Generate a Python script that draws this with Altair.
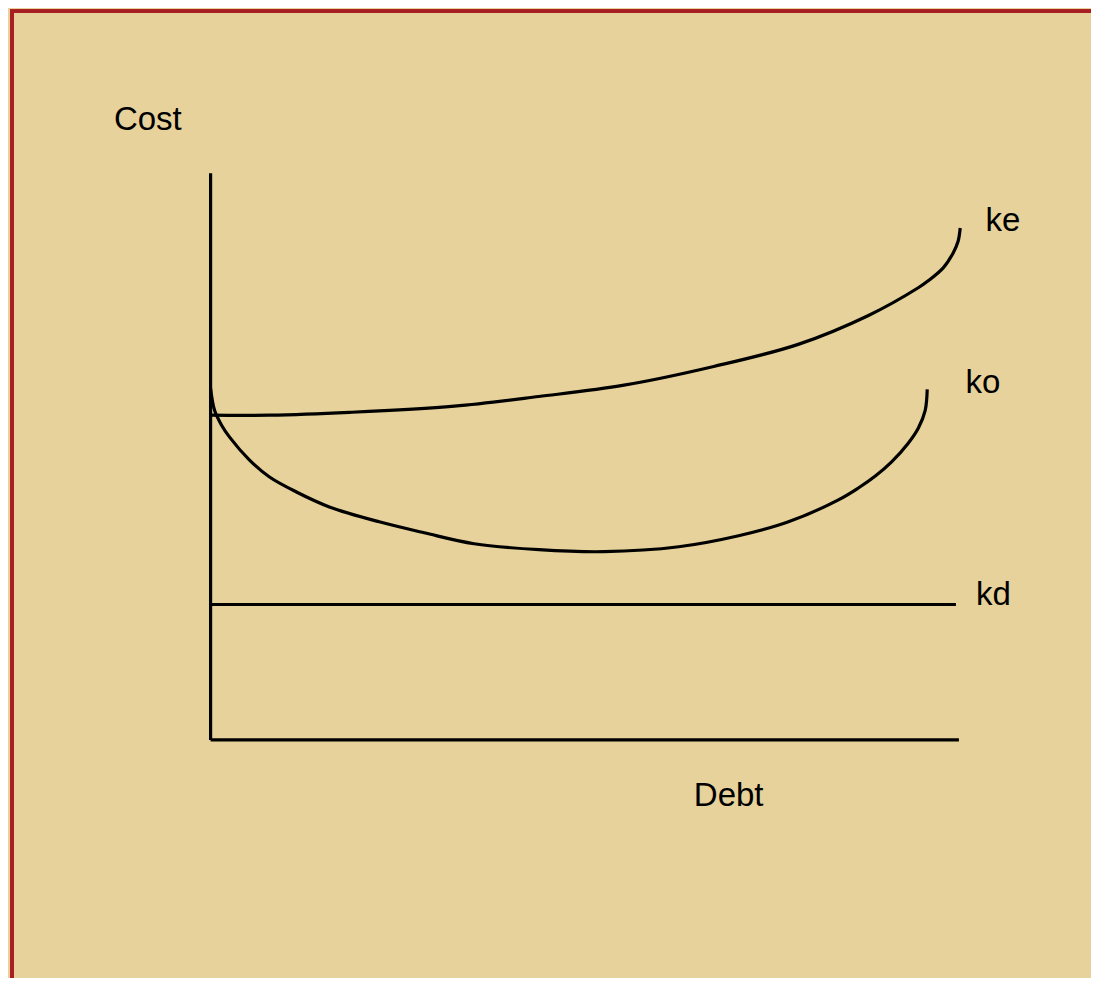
import altair as alt
import pandas as pd

# Curve data (Debt on x, Cost on y, arbitrary units 0..100)
ke_x = [0, 7.9, 18.6, 32.6, 43.9, 55.3, 67.3, 78.6, 88.0, 94.66, 95.99, 98.0, 99.33, 100.0, 100.27]
ke_y = [57.3, 57.3, 57.8, 58.9, 60.6, 62.6, 65.9, 69.8, 74.9, 79.79, 81.02, 83.3, 85.94, 88.05, 90.33]

ko_x = [0, 0.53, 1.47, 2.54, 5.21, 7.88, 11.48, 15.89, 22.56, 28.57, 35.25, 43.92, 52.60, 62.62,
        70.63, 77.30, 83.98, 86.65, 88.92, 91.06, 93.32, 94.66, 95.59, 95.86]
ko_y = [62.04, 58.17, 55.54, 53.43, 49.38, 46.40, 43.76, 41.12, 38.49, 36.56, 34.62, 33.57, 33.22, 34.09,
        36.03, 38.49, 42.36, 44.46, 46.57, 49.03, 52.37, 55.01, 58.17, 61.86]

kd_x = [0, 99.7]
kd_y = [23.9, 23.9]

xaxis_x = [0, 100.1]
xaxis_y = [0, 0]
yaxis_x = [0, 0]
yaxis_y = [0, 100]

label_text = ["Cost", "ke", "ko", "kd", "Debt"]
label_x = [-8.4, 106.0, 103.3, 104.7, 69.3]
label_y = [107.7, 89.8, 61.2, 23.9, -11.6]

rows = []
for name, xs, ys in [("ke", ke_x, ke_y), ("ko", ko_x, ko_y), ("kd", kd_x, kd_y),
                     ("xaxis", xaxis_x, xaxis_y), ("yaxis", yaxis_x, yaxis_y)]:
    for i, (a, b) in enumerate(zip(xs, ys)):
        rows.append({"series": name, "x": a, "y": b, "idx": i})
lines_df = pd.DataFrame(rows)
labels_df = pd.DataFrame({"text": label_text, "x": label_x, "y": label_y})

xs = alt.Scale(domain=[-27.1, 117.5], nice=False, zero=False)
ys = alt.Scale(domain=[-41.65, 128.8], nice=False, zero=False)

lines = alt.Chart(lines_df).mark_line(color="black", strokeWidth=3.2, interpolate="catmull-rom").encode(
    x=alt.X("x:Q", scale=xs, axis=None),
    y=alt.Y("y:Q", scale=ys, axis=None),
    detail="series:N",
    order="idx:Q",
)

labels = alt.Chart(labels_df).mark_text(
    font="Liberation Sans", fontSize=33, color="black", align="center", baseline="alphabetic"
).encode(
    x=alt.X("x:Q", scale=xs, axis=None),
    y=alt.Y("y:Q", scale=ys, axis=None),
    text="text:N",
)

border_left = alt.Chart(labels_df).mark_rule(color="#A81E22", strokeWidth=4).encode(
    x=alt.value(4), y=alt.value(0), y2=alt.value(970)
)
border_top = alt.Chart(labels_df).mark_rule(color="#A81E22", strokeWidth=3).encode(
    x=alt.value(2), x2=alt.value(1083), y=alt.value(1)
)

chart = alt.layer(lines, labels, border_left, border_top).properties(
    width=1083, height=970, background="#E6D29A", padding=0,
    autosize=alt.AutoSizeParams(type="fit", contains="padding"),
).configure_view(stroke=None)

chart.save("out.html", embed_options={"renderer": "svg", "actions": False})
